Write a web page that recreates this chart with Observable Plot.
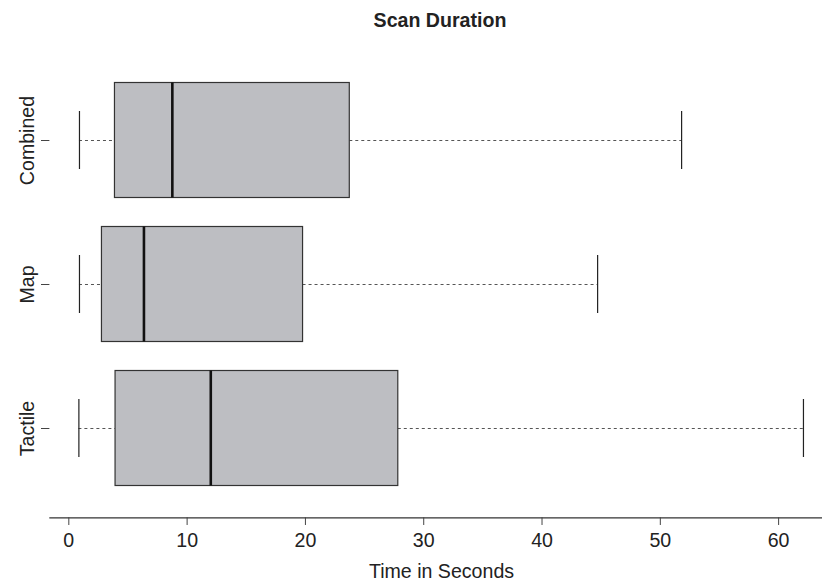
<!DOCTYPE html>
<html>
<head>
<meta charset="utf-8">
<script src="https://cdn.jsdelivr.net/npm/d3@7"></script>
<script src="https://cdn.jsdelivr.net/npm/@observablehq/plot@0.6"></script>
<style>
  html, body { margin: 0; padding: 0; background: #fff; overflow: hidden; }
  #title {
    width: 822px; box-sizing: border-box; padding-left: 58px;
    height: 40px; line-height: 40px; text-align: center;
    font-family: "Liberation Sans", Arial, Helvetica, sans-serif;
    font-weight: bold; font-size: 19.6px; color: #222;
  }
</style>
</head>
<body>
<div id="title">Scan Duration</div>
<div id="chart"></div>
<script>
const categories = ["Combined", "Map", "Tactile"];
const whiskerLow = [0.9, 0.9, 0.85];
const q1 = [3.9, 2.8, 3.95];
const median = [8.75, 6.35, 12];
const q3 = [23.75, 19.8, 27.85];
const whiskerHigh = [51.8, 44.7, 62.1];
const xTicks = [0, 10, 20, 30, 40, 50, 60];
const xLabel = "Time in Seconds";

const data = categories.map((c, i) => ({
  cat: c, lo: whiskerLow[i], q1: q1[i], med: median[i], q3: q3[i], hi: whiskerHigh[i]
}));

const H = 543;
const plot = Plot.plot({
  width: 822,
  height: H,
  marginLeft: 49.4,
  marginRight: 0,
  marginTop: 0,
  marginBottom: 65.7,
  style: {
    fontFamily: '"Liberation Sans", Arial, Helvetica, sans-serif',
    fontSize: "19.6px",
    color: "#222",
    background: "#fff",
    overflow: "visible"
  },
  x: { domain: [-1.6, 63.71], label: null },
  y: { type: "band", domain: categories, range: [28, 460], padding: 0, label: null },
  marks: [
    Plot.frame({ anchor: "bottom", stroke: "#333", strokeWidth: 1.2 }),
    Plot.axisX({ ticks: xTicks, tickSize: 7.7, tickPadding: 7.8, stroke: "#444", fill: "#222", fontSize: 19.6, label: null }),
    Plot.axisY({ tickSize: 8.4, tickFormat: () => "", stroke: "#444", label: null }),
    Plot.text(data, { y: "cat", text: "cat", frameAnchor: "left", dx: -16.4, rotate: -90,
      lineAnchor: "bottom", textAnchor: "middle", fontSize: 19.6, fill: "#222" }),
    // dashed whiskers
    Plot.ruleY(data, { y: "cat", x1: "lo", x2: "q1", stroke: "#555", strokeWidth: 1, strokeDasharray: "3,3" }),
    Plot.ruleY(data, { y: "cat", x1: "q3", x2: "hi", stroke: "#555", strokeWidth: 1, strokeDasharray: "3,3" }),
    // whisker caps
    Plot.tickX(data, { x: "lo", y: "cat", insetTop: 43, insetBottom: 43, stroke: "#222", strokeWidth: 1.2 }),
    Plot.tickX(data, { x: "hi", y: "cat", insetTop: 43, insetBottom: 43, stroke: "#222", strokeWidth: 1.2 }),
    // boxes
    Plot.barX(data, { y: "cat", x1: "q1", x2: "q3", insetTop: 14.5, insetBottom: 14.5,
      fill: "#bdbec2", stroke: "#333", strokeWidth: 1.2 }),
    // medians
    Plot.tickX(data, { x: "med", y: "cat", insetTop: 14.5, insetBottom: 14.5, stroke: "#111", strokeWidth: 2.6 }),
    // x label
    Plot.text([xLabel], { text: d => d, frameAnchor: "bottom", dx: 5.3, dy: 59.7,
      lineAnchor: "bottom", textAnchor: "middle", fontSize: 19.6, fill: "#222" })
  ]
});
document.getElementById("chart").appendChild(plot);
</script>
</body>
</html>
